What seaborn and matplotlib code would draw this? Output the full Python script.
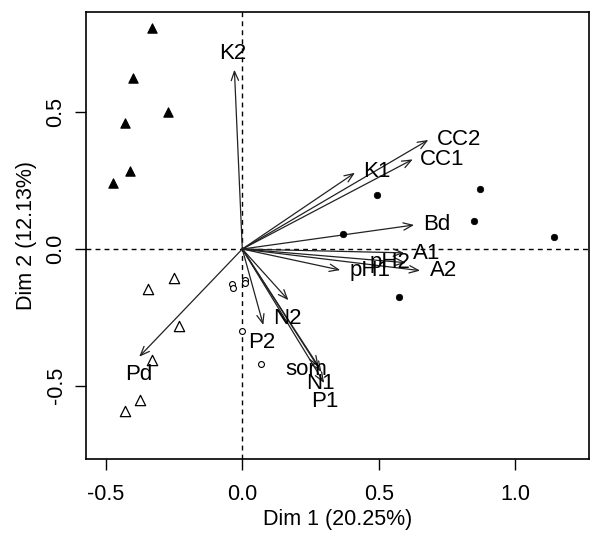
import matplotlib
matplotlib.use("Agg")
import matplotlib.pyplot as plt
import seaborn as sns
import pandas as pd

sns.set_theme(style="white")
plt.rcParams['font.family'] = ['Liberation Sans', 'DejaVu Sans']
plt.rcParams['text.color'] = 'black'
plt.rcParams['axes.labelcolor'] = 'black'
plt.rcParams['xtick.color'] = 'black'
plt.rcParams['ytick.color'] = 'black'

# ---- individuals (scores) ----
grp_filled_tri_x = [-0.331, -0.401, -0.272, -0.430, -0.412, -0.474]
grp_filled_tri_y = [0.810, 0.626, 0.502, 0.462, 0.286, 0.242]
grp_open_tri_x = [-0.252, -0.346, -0.231, -0.332, -0.376, -0.431]
grp_open_tri_y = [-0.107, -0.148, -0.282, -0.407, -0.553, -0.592]
grp_open_circ_x = [-0.036, -0.035, 0.011, 0.011, -0.002, 0.067]
grp_open_circ_y = [-0.129, -0.144, -0.114, -0.126, -0.299, -0.421]
grp_filled_circ_x = [0.493, 0.872, 0.848, 1.141, 0.368, 0.576]
grp_filled_circ_y = [0.197, 0.221, 0.103, 0.043, 0.055, -0.175]

# ---- variables (loadings) ----
var_names = ["K2", "CC2", "CC1", "K1", "Bd", "A1", "A2", "pH2", "pH1",
             "N2", "P2", "som", "N1", "P1", "Pd"]
var_x = [-0.029, 0.682, 0.625, 0.413, 0.630, 0.593, 0.652, 0.600, 0.359,
         0.169, 0.077, 0.280, 0.290, 0.300, -0.378]
var_y = [0.656, 0.399, 0.328, 0.279, 0.088, -0.014, -0.079, -0.050, -0.077,
         -0.187, -0.278, -0.430, -0.450, -0.490, -0.394]
lab_x = [-0.035, 0.793, 0.733, 0.494, 0.714, 0.677, 0.737, 0.542, 0.468,
         0.165, 0.073, 0.236, 0.285, 0.303, -0.379]
lab_y = [0.717, 0.399, 0.328, 0.282, 0.088, -0.015, -0.077, -0.048, -0.080,
         -0.254, -0.343, -0.440, -0.492, -0.559, -0.458]

xlabel = "Dim 1 (20.25%)"
ylabel = "Dim 2 (12.13%)"
xticks = [-0.5, 0.0, 0.5, 1.0]
yticks = [-0.5, 0.0, 0.5]

fig = plt.figure(figsize=(5.91, 5.34), dpi=100)
ax = fig.add_axes([86/591, 1 - 459/534, (589-86)/591, (459-12)/534])

df = pd.concat([
    pd.DataFrame({"x": grp_filled_tri_x, "y": grp_filled_tri_y, "g": "A"}),
    pd.DataFrame({"x": grp_open_tri_x, "y": grp_open_tri_y, "g": "B"}),
    pd.DataFrame({"x": grp_open_circ_x, "y": grp_open_circ_y, "g": "C"}),
    pd.DataFrame({"x": grp_filled_circ_x, "y": grp_filled_circ_y, "g": "D"}),
])

styles = {
    "A": dict(marker="^", s=45, color="black", edgecolor="black", linewidth=0.8),
    "B": dict(marker="^", s=55, color="white", edgecolor="black", linewidth=0.9),
    "C": dict(marker="o", s=18, color="white", edgecolor="black", linewidth=0.8),
    "D": dict(marker="o", s=22, color="black", edgecolor="black", linewidth=0.5),
}
for g, kw in styles.items():
    sub = df[df.g == g]
    sns.scatterplot(data=sub, x="x", y="y", ax=ax, legend=False, zorder=3, **kw)

ax.axhline(0, color="black", ls=(0, (3.5, 3)), lw=1.0, zorder=1)
ax.axvline(0, color="black", ls=(0, (3.5, 3)), lw=1.0, zorder=1)

for name, vx, vy, lx, ly in zip(var_names, var_x, var_y, lab_x, lab_y):
    ax.annotate("", xy=(vx, vy), xytext=(0, 0),
                arrowprops=dict(arrowstyle="->,head_length=0.55,head_width=0.22",
                                color="#222222", lw=0.9, shrinkA=0, shrinkB=0),
                zorder=2)
    ax.text(lx, ly, name, ha="center", va="center", fontsize=16, color="black", zorder=4)

ax.set_xlim(-0.573, 1.271)
ax.set_ylim(-0.768, 0.867)
ax.set_xticks(xticks)
ax.set_xticklabels([f"{t:.1f}" for t in xticks])
ax.set_yticks(yticks)
ax.set_yticklabels([f"{t:.1f}" for t in yticks], rotation=90, va="center")
ax.tick_params(axis="both", direction="out", length=8, width=1, colors="black",
               labelsize=15.5, bottom=True, left=True)
ax.tick_params(axis="x", pad=10)
ax.tick_params(axis="y", pad=6)
for sp in ax.spines.values():
    sp.set_color("black")
    sp.set_linewidth(1.2)
ax.set_xlabel(xlabel, fontsize=15.5, labelpad=3, color="black")
ax.set_ylabel(ylabel, fontsize=15.5, labelpad=6, color="black")

fig.savefig("out.png", dpi=100)
